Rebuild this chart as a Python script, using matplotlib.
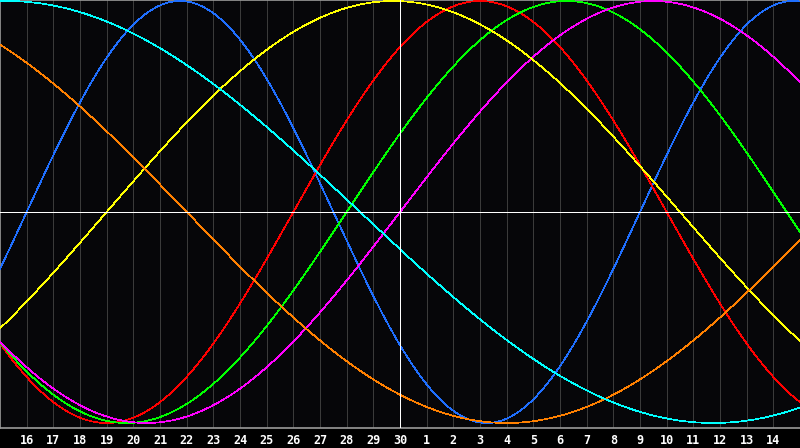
#!/usr/bin/env python3
"""
Biorhythm chart, 30 days around the 30th.
"""

import numpy as np
import matplotlib
matplotlib.use('Agg')
import matplotlib.pyplot as plt

# Day labels (one per grid line)
day_labels = ['16', '17', '18', '19', '20', '21', '22', '23', '24', '25', '26',
              '27', '28', '29', '30', '1', '2', '3', '4', '5', '6', '7', '8',
              '9', '10', '11', '12', '13', '14']

# Cycles: period in days and the chart day where each one crosses zero going up
cycle_names = ['physical', 'emotional', 'intellectual', 'intuitive',
               'aesthetic', 'awareness', 'spiritual']
cycle_periods = [23, 28, 33, 38, 43, 48, 53]
cycle_zero_up = [1.0, 11.0, 13.0, 15.0, 4.0, -17.0, -13.0]
cycle_colors = ['#1f6fff', '#ff0000', '#00ff00', '#ff00ff',
                '#ffff00', '#ff8000', '#00ffff']

BG = '#060609'
GRID = '#3a3a3a'
BORDER = '#9a9a9a'
PX = 0.72  # one pixel in points at dpi 100

fig = plt.figure(figsize=(8, 4.48), dpi=100, facecolor='black')
ax = fig.add_axes([0, 20 / 448, 1, 428 / 448])
ax.set_facecolor(BG)

n_days = 30
ax.set_xlim(0, n_days)
ax.set_ylim(-1.0237, 1.0047)

# vertical day lines
for i in range(1, n_days):
    if day_labels[i - 1] == '30':
        continue
    ax.axvline(i, color=GRID, lw=PX, antialiased=False, zorder=1)

t = np.linspace(0, n_days, 1600)
for period, c0, col in zip(cycle_periods, cycle_zero_up, cycle_colors):
    ax.plot(t, np.sin(2 * np.pi * (t - c0) / period), color=col,
            lw=0.5, antialiased=False, zorder=3)

# today marker and zero line
ax.axvline(day_labels.index('30') + 1, color='white', lw=PX,
           antialiased=False, zorder=4)
ax.axhline(0, color='white', lw=PX, antialiased=False, zorder=4)

for side in ['top', 'left', 'bottom']:
    ax.spines[side].set_color(BORDER)
    ax.spines[side].set_linewidth(1.2)
ax.spines['right'].set_visible(False)

ax.set_yticks([])
ax.set_xticks(range(1, n_days))
ax.set_xticklabels(day_labels, color='white', fontsize=8.5,
                   fontweight='bold', family='DejaVu Sans Mono')
ax.tick_params(axis='x', length=0, pad=4)

plt.savefig('out.png', dpi=100, facecolor='black')
